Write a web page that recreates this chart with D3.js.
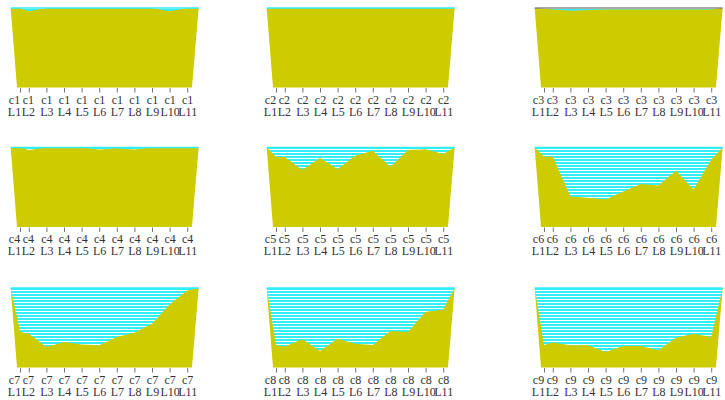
<!DOCTYPE html>
<html>
<head>
<meta charset="utf-8">
<script src="https://cdn.jsdelivr.net/npm/d3@7"></script>
<style>
  body { margin: 0; background: #fff; }
  svg { display: block; }
  .tick text { font-family: "Liberation Serif", "Times New Roman", serif; font-size: 12px; fill: #333; }
</style>
</head>
<body>
<svg id="chart" width="725" height="400"></svg>
<script>
// Groups (one panel each) and the levels along every panel's x axis
const groups = ["c1", "c2", "c3", "c4", "c5", "c6", "c7", "c8", "c9"];
const levels = ["L1", "L2", "L3", "L4", "L5", "L6", "L7", "L8", "L9", "L10", "L11"];

// Profile values per group, in percent of the panel's full scale
const valuesC1 = [100, 96, 100, 100, 100, 100, 100, 100, 100, 96, 100];
const valuesC2 = [100, 100, 100, 100, 100, 100, 100, 100, 100, 100, 100];
const valuesC3 = [99, 98, 96.5, 97.5, 98, 98, 98, 98, 98, 98, 98];
const valuesC4 = [100, 97, 100, 100, 100, 97.5, 99, 97.5, 100, 100, 100];
const valuesC5 = [88.3, 88, 71.7, 86.7, 72.9, 89.6, 95.8, 75.8, 96.7, 97.9, 91.7];
const valuesC6 = [88.7, 88.3, 38.3, 36.7, 34.6, 44.6, 54.2, 52.1, 70.8, 47.1, 84.6];
const valuesC7 = [45, 42.5, 25.8, 32, 28.8, 27.9, 38.3, 43.8, 55, 79.2, 96.7];
const valuesC8 = [27.9, 26.3, 35.4, 20.8, 36.3, 30, 28.3, 45.8, 44.6, 70, 72.5];
const valuesC9 = [28.3, 31.3, 27.9, 27.9, 19.6, 27.1, 27.1, 21.7, 37.5, 42.5, 38.3];
const seriesValues = [valuesC1, valuesC2, valuesC3, valuesC4, valuesC5,
                      valuesC6, valuesC7, valuesC8, valuesC9];

// Panel grid layout
const colX = [20, 276, 544];      // x of the first level in each column
const rowTop = [8, 147.5, 288];   // top edge of each row of panels
const panelH = 79.5;
const span = 167.2;               // distance from first to last level

// Position of each level on the panel's x domain (first level sits half a step in)
const levelPos = levels.map((d, i) => (i === 0 ? 0.5 : i));
// Small nudges keep the two crowded leading labels apart
const labelShift = levels.map((d, i) => (i === 0 ? -6 : i === 1 ? -1 : 0));
// Corners of the band behind the profile, in the same domain
const band = { topLeft: -0.03, topRight: 10.65, bottomLeft: 0.33, bottomRight: 10.27 };

const OLIVE = "#cccc00";
const CYAN = "#33eefc";
const outlinedGroups = new Set(["c3"]);

const svg = d3.select("#chart");

// Horizontal hatch used for the region above each profile
const defs = svg.append("defs");
const pat = defs.append("pattern")
  .attr("id", "hatch")
  .attr("patternUnits", "userSpaceOnUse")
  .attr("width", 12).attr("height", 3);
pat.append("rect").attr("width", 12).attr("height", 3).attr("fill", "#ffffff");
pat.append("rect").attr("width", 12).attr("height", 2).attr("fill", CYAN);

groups.forEach((g, gi) => {
  const col = gi % 3, row = Math.floor(gi / 3);
  const top = rowTop[row], bottom = top + panelH;
  const x = d3.scaleLinear().domain([0.5, 10]).range([colX[col], colX[col] + span]);
  const y = d3.scaleLinear().domain([0, 100]).range([bottom, top]);
  const vals = seriesValues[gi];

  const panel = svg.append("g").attr("class", "panel " + g);

  // Olive band
  const trap = [
    [x(band.topLeft), y(100)], [x(band.topRight), y(100)],
    [x(band.bottomRight), y(0)], [x(band.bottomLeft), y(0)]
  ];
  panel.append("path")
    .attr("d", "M" + trap.join("L") + "Z")
    .attr("fill", OLIVE);

  // Hatched region between the full-scale line and the profile
  const pts = [[band.topLeft, 100]]
    .concat(vals.map((v, i) => [levelPos[i], v]))
    .concat([[band.topRight, 100]]);
  const line = d3.line().x(d => x(d[0])).y(d => y(d[1]));
  panel.append("path")
    .attr("d", line(pts) + "Z")
    .attr("fill", "url(#hatch)");

  // Full-scale rule along the top
  panel.append("line")
    .attr("x1", x(band.topLeft)).attr("x2", x(band.topRight))
    .attr("y1", y(100)).attr("y2", y(100))
    .attr("stroke", outlinedGroups.has(g) ? "#555" : CYAN)
    .attr("stroke-width", outlinedGroups.has(g) ? 1 : 1.3);

  // Level axis with two-line labels (group over level)
  const axis = d3.axisBottom(x)
    .tickValues(levelPos)
    .tickSize(4.5)
    .tickFormat((d, i) => levels[i]);
  const ax = panel.append("g")
    .attr("transform", `translate(0,${bottom + 0.5})`)
    .call(axis);
  ax.attr("font-family", null).attr("font-size", null);
  ax.select(".domain").remove();
  ax.selectAll(".tick line").attr("stroke", "#777");
  ax.selectAll(".tick text").each(function (d, i) {
    const t = d3.select(this);
    t.text(null).attr("y", null).attr("dy", null).attr("fill", null)
      .attr("text-anchor", "middle");
    t.append("tspan").attr("x", labelShift[i]).attr("y", 15.5).text(g);
    t.append("tspan").attr("x", labelShift[i]).attr("y", 27.5).text(levels[i]);
  });
});
</script>
</body>
</html>
